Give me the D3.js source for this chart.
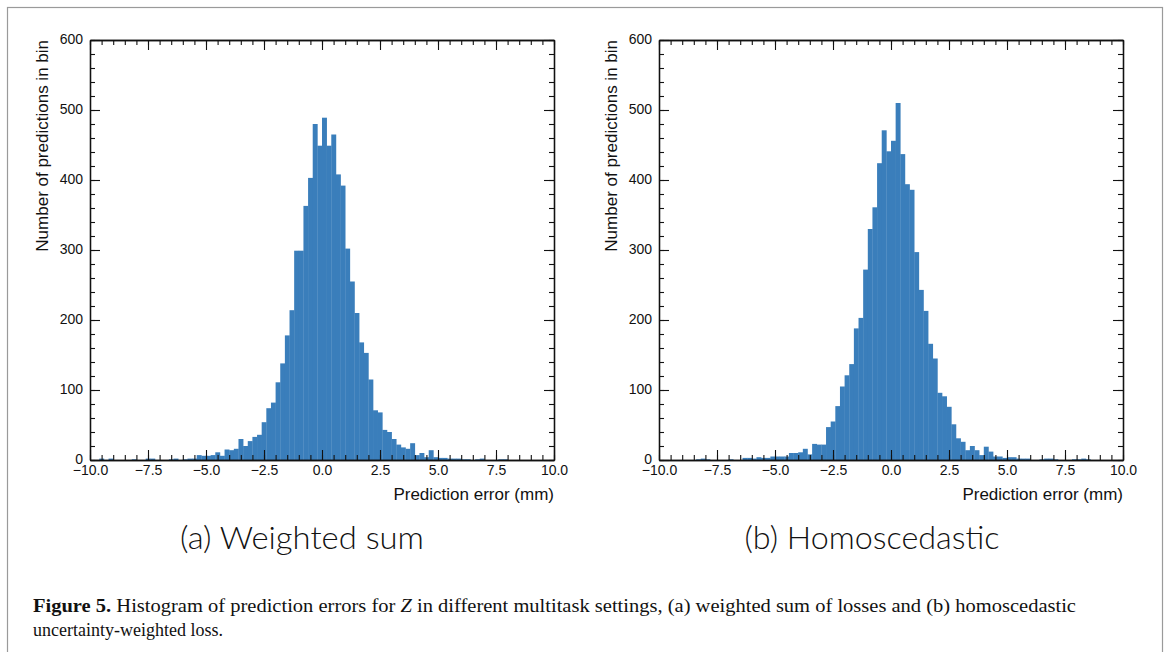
<!DOCTYPE html>
<meta charset="utf-8">
<script src="https://d3js.org/d3.v7.min.js"></script>
<style>
  body { margin: 0; background: #fff; }
  text { font-family: "Liberation Sans", Arial, sans-serif; }
</style>
<div id="my_dataviz"></div>
<script>
    // bins go from -10 to 10 in steps of 0.2 (100 bins)
    var binStart = -10, binWidth = 0.2;

    // (a) weighted sum - counts per bin
    var weightedSum = [
        0, 0, 2, 0, 2, 0, 0, 0, 0, 1,
        0, 0, 2, 2, 0, 0, 0, 1, 2, 0,
        1, 2, 2, 7, 6, 6, 7, 11, 6, 15,
        14, 16, 30, 20, 27, 33, 36, 54, 74, 82,
        111, 138, 178, 214, 299, 299, 363, 403, 480, 449,
        489, 449, 465, 408, 392, 302, 255, 210, 168, 153,
        115, 71, 68, 43, 40, 30, 22, 18, 16, 24,
        7, 10, 4, 14, 4, 3, 3, 2, 2, 2,
        1, 1, 0, 1, 2, 0, 0, 0, 1, 1,
        0, 0, 0, 0, 0, 0, 0, 0, 0, 0
    ];

    // (b) homoscedastic - counts per bin
    var homoscedastic = [
        0, 0, 0, 0, 0, 0, 0, 0, 1, 2,
        1, 0, 0, 0, 0, 1, 0, 0, 3, 3,
        2, 4, 3, 3, 5, 5, 5, 5, 10, 10,
        11, 16, 8, 23, 22, 22, 47, 55, 77, 105,
        121, 137, 188, 203, 272, 330, 361, 424, 471, 441,
        456, 510, 437, 394, 386, 297, 243, 213, 166, 145,
        96, 91, 76, 51, 31, 26, 14, 20, 14, 7,
        19, 12, 5, 5, 3, 4, 4, 2, 2, 2,
        0, 0, 1, 2, 2, 1, 0, 0, 0, 1,
        1, 2, 1, 0, 0, 0, 0, 0, 0, 0
    ];

    var xTicks = [-10, -7.5, -5, -2.5, 0, 2.5, 5, 7.5, 10];
    var yTicks = [0, 100, 200, 300, 400, 500, 600];
    var subtitles = ["(a) Weighted sum", "(b) Homoscedastic"];

    var W = 1169, H = 652;
    var svg = d3.select("#my_dataviz")
        .append("svg")
        .attr("width", W)
        .attr("height", H);

    // outer figure frame
    svg.append("rect")
        .attr("x", 7.5).attr("y", 7.5)
        .attr("width", 1155).attr("height", 700)
        .attr("fill", "none")
        .attr("stroke", "#9a9a9a")
        .attr("stroke-width", 1.2);

    var width = 464, height = 420;
    var panels = [
        { left: 90, top: 40, data: weightedSum, title: subtitles[0], cx: 302, len: 244 },
        { left: 659, top: 40, data: homoscedastic, title: subtitles[1], cx: 872, len: 255 }
    ];

    var fmt = function (d) { return d3.format(".1f")(d).replace("-", "\u2212"); };

    panels.forEach(function (p) {
        var g = svg.append("g")
            .attr("transform", "translate(" + p.left + "," + p.top + ")");

        var x = d3.scaleLinear().domain([-10, 10]).range([0, width]);
        var y = d3.scaleLinear().domain([0, 600]).range([height, 0]);

        // bars
        g.append("g")
            .selectAll("rect")
            .data(p.data)
            .enter()
            .append("rect")
            .attr("x", function (d, i) { return x(binStart + i * binWidth); })
            .attr("width", x(binWidth) - x(0) + 0.3)
            .attr("y", function (d) { return y(d); })
            .attr("height", function (d) { return height - y(d); })
            .attr("fill", "#3a7ebb");

        // axes with inward ticks on all sides
        var minorX = d3.range(-10, 10.01, 0.5);
        var minorY = d3.range(0, 601, 20);

        var bottom = g.append("g")
            .attr("transform", "translate(0," + height + ")")
            .call(d3.axisBottom(x).tickValues(xTicks).tickSizeInner(-10).tickSizeOuter(0).tickPadding(14).tickFormat(fmt));
        g.append("g")
            .attr("transform", "translate(0," + height + ")")
            .call(d3.axisBottom(x).tickValues(minorX).tickSizeInner(-5).tickSizeOuter(0).tickFormat(""));
        g.append("g")
            .call(d3.axisTop(x).tickValues(xTicks).tickSizeInner(-10).tickSizeOuter(0).tickFormat(""));
        g.append("g")
            .call(d3.axisTop(x).tickValues(minorX).tickSizeInner(-5).tickSizeOuter(0).tickFormat(""));

        var left = g.append("g")
            .call(d3.axisLeft(y).tickValues(yTicks).tickSizeInner(-10).tickSizeOuter(0).tickPadding(14));
        g.append("g")
            .call(d3.axisLeft(y).tickValues(minorY).tickSizeInner(-5).tickSizeOuter(0).tickFormat(""));
        g.append("g")
            .attr("transform", "translate(" + width + ",0)")
            .call(d3.axisRight(y).tickValues(yTicks).tickSizeInner(-10).tickSizeOuter(0).tickFormat(""));
        g.append("g")
            .attr("transform", "translate(" + width + ",0)")
            .call(d3.axisRight(y).tickValues(minorY).tickSizeInner(-5).tickSizeOuter(0).tickFormat(""));

        g.selectAll(".domain").attr("stroke", "#111").attr("stroke-width", 1.3);
        g.selectAll(".tick line").attr("stroke", "#111").attr("stroke-width", 1.1);
        g.selectAll(".tick text")
            .style("font-family", "'Liberation Sans', Arial, sans-serif")
            .style("font-size", "14px")
            .attr("fill", "#111");
        left.selectAll(".tick text").attr("x", -7).attr("dy", "0.25em");
        bottom.selectAll(".tick text").attr("y", 5);

        // axis titles
        g.append("text")
            .attr("transform", "rotate(-90)")
            .attr("x", 0)
            .attr("y", -42)
            .style("text-anchor", "end")
            .style("font-size", "17px")
            .attr("fill", "#111")
            .text("Number of predictions in bin");

        g.append("text")
            .attr("x", width)
            .attr("y", height + 40)
            .style("text-anchor", "end")
            .style("font-size", "17px")
            .attr("fill", "#111")
            .text("Prediction error (mm)");

        // panel subtitle
        svg.append("text")
            .attr("x", p.cx)
            .attr("y", 549)
            .style("text-anchor", "middle")
            .style("font-family", "Lato, 'DejaVu Sans', sans-serif")
            .style("font-weight", "300")
            .style("font-size", "32px")
            .attr("textLength", p.len)
            .attr("lengthAdjust", "spacingAndGlyphs")
            .attr("fill", "#111")
            .text(p.title);
    });

    // caption (first line is justified in the original)
    var cap = svg.append("text")
        .attr("x", 33)
        .attr("y", 612)
        .attr("textLength", 1043)
        .attr("lengthAdjust", "spacingAndGlyphs")
        .style("font-family", "'Liberation Serif', 'DejaVu Serif', serif")
        .style("font-size", "18px")
        .attr("fill", "#111");
    cap.append("tspan").style("font-weight", "bold").text("Figure 5.");
    cap.append("tspan").text(" Histogram of prediction errors for ");
    cap.append("tspan").style("font-style", "italic").text("Z");
    cap.append("tspan").text(" in different multitask settings, (a) weighted sum of losses and (b) homoscedastic");

    svg.append("text")
        .attr("x", 33)
        .attr("y", 636)
        .style("font-family", "'Liberation Serif', 'DejaVu Serif', serif")
        .style("font-size", "18px")
        .attr("fill", "#111")
        .text("uncertainty-weighted loss.");
</script>
